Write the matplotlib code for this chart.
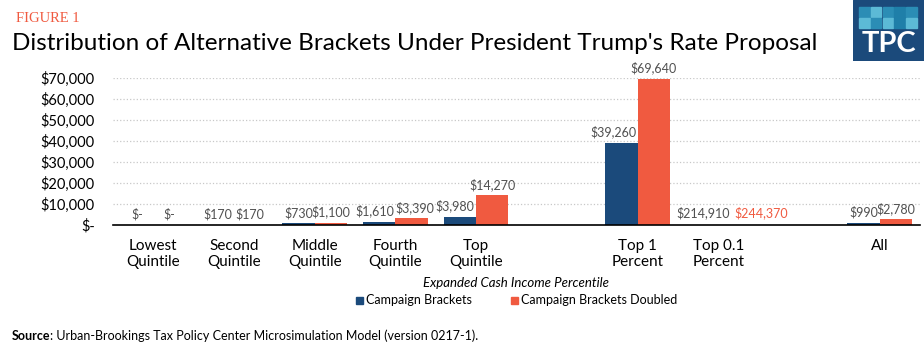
import numpy as np
import matplotlib.pyplot as plt
from matplotlib.patches import Rectangle

plt.rcParams['font.family'] = ['Lato', 'DejaVu Sans']

# data
categories = ['Lowest\nQuintile', 'Second\nQuintile', 'Middle\nQuintile', 'Fourth\nQuintile',
              'Top\nQuintile', 'Top 1\nPercent', 'Top 0.1\nPercent', 'All']
campaign = [0, 170, 730, 1610, 3980, 39260, 214910, 990]
doubled = [0, 170, 1100, 3390, 14270, 69640, 244370, 2780]
series_names = ['Campaign Brackets', 'Campaign Brackets Doubled']

blue = '#1B4A7B'
red = '#F05A40'
label_grey = '#505050'

# slots on the x axis, leaving empty slots before "Top 1" and before "All"
slots = np.array([0, 1, 2, 3, 4, 6, 7, 9])
ymax = 70000
width = 0.4
lab_size = 9

fig = plt.figure(figsize=(9.24, 3.51), dpi=100)
W, H = 924, 351
ax = fig.add_axes([113 / W, 1 - 225 / H, (920 - 113) / W, (225 - 78) / H])


def fmt(v):
    return '$-' if v == 0 else '${:,.0f}'.format(v)


labels = {}
bars = {}
for name, vals, color, shift in [('blue', campaign, blue, -width / 2),
                                 ('red', doubled, red, width / 2)]:
    vals = np.array(vals, dtype=float)
    # values past the axis top are not drawn as bars, only labelled
    shown = np.where(vals > ymax, 0, vals)
    bars[name] = ax.bar(slots + shift, shown, width=width, color=color, zorder=3)
    labels[name] = []
    for x, v, s in zip(slots + shift, vals, shown):
        if v > ymax:
            labels[name].append(None)
            continue
        t = ax.annotate(fmt(v), (x, s), xytext=(0, 3), textcoords='offset points',
                        ha='center', va='bottom', fontsize=lab_size, color=label_grey,
                        annotation_clip=False)
        labels[name].append(t)

# off-scale values for the Top 0.1 percent group
i = categories.index('Top 0.1\nPercent')
ax.annotate(fmt(campaign[i]), (slots[i] - width / 2, 0), xytext=(1, 4),
            textcoords='offset points', ha='center', va='bottom',
            fontsize=lab_size, color=label_grey)
ax.annotate(fmt(doubled[i]), (slots[i] + width / 2, 0), xytext=(0, 4),
            textcoords='offset points', ha='left', va='bottom',
            fontsize=lab_size, color=red)

ax.set_xlim(-0.5, 9.5)
ax.set_ylim(0, ymax)
ax.set_yticks(np.arange(0, ymax + 1, 10000))
ax.set_yticklabels([fmt(v) for v in np.arange(0, ymax + 1, 10000)], fontsize=10.5)
ax.set_xticks(slots)
ax.set_xticklabels(categories, fontsize=11, linespacing=1.2)
ax.tick_params(axis='x', length=0, pad=10)
ax.tick_params(axis='y', length=0, pad=13)
ax.yaxis.grid(True, linestyle=':', color='#c8c8c8', linewidth=0.9, zorder=0)
for sp in ['top', 'right', 'left']:
    ax.spines[sp].set_visible(False)
ax.spines['bottom'].set_linewidth(1.2)
ax.spines['bottom'].set_zorder(4)

# push a blue label to the left when it runs into the red bar or label next to it
fig.canvas.draw()
r = fig.canvas.get_renderer()
for j in range(len(slots)):
    tb, tr = labels['blue'][j], labels['red'][j]
    if tb is None or tr is None:
        continue
    bb, rb = tb.get_window_extent(r), tr.get_window_extent(r)
    red_bar = bars['red'][j].get_window_extent(r)
    hits_bar = red_bar.y1 > bb.y0 and bb.x1 > red_bar.x0
    if hits_bar or bb.x1 > rb.x0 + 2:
        tb.set_ha('right')
        tb.xy = (slots[j], tb.xy[1])
        tb.set_position((-1, 3))
        fig.canvas.draw()
        bb = tb.get_window_extent(r)
        if bb.x1 > rb.x0 and not hits_bar:
            tr.set_position(((bb.x1 - rb.x0 + 1) * 72 / fig.dpi, 3))

# axis title and legend
fig.text(516 / W, 1 - 283 / H, 'Expanded Cash Income Percentile', style='italic',
         fontsize=9.5, ha='center', va='center')
fig.patches.append(Rectangle((356 / W, 1 - 304 / H), 7 / W, 7 / H, color=blue,
                             transform=fig.transFigure, figure=fig))
fig.text(366 / W, 1 - 300 / H, series_names[0], fontsize=9, va='center')
fig.patches.append(Rectangle((511 / W, 1 - 304 / H), 7 / W, 7 / H, color=red,
                             transform=fig.transFigure, figure=fig))
fig.text(521 / W, 1 - 300 / H, series_names[1], fontsize=9, va='center')

# header
fig.text(16 / W, 1 - 19 / H, 'FIGURE 1', family='Liberation Serif', fontsize=10.5,
         color=red, va='center')
fig.text(12 / W, 1 - 43 / H,
         "Distribution of Alternative Brackets Under President Trump's Rate Proposal",
         fontsize=17.5, va='center')

# source, bold lead word then the rest right after it
src = fig.text(12 / W, 1 - 336 / H, 'Source', fontsize=9, fontweight='bold', va='center')
fig.canvas.draw()
x_end = src.get_window_extent().x1 / W
fig.text(x_end, 1 - 336 / H,
         ': Urban-Brookings Tax Policy Center Microsimulation Model (version 0217-1).',
         fontsize=9, va='center')

# TPC logo
logo = fig.add_axes([853 / W, 1 - 61 / H, 71 / W, 61 / H])
logo.set_xlim(0, 71)
logo.set_ylim(61, 0)
logo.axis('off')
logo.add_patch(Rectangle((0, 0), 71, 61, color='#1B4A7B'))
tiles = [['#2B8DB5', '#5CBAD6', '#2B8DB5', '#1F7FA9', '#2B8DB5'],
         ['#5CBAD6', '#2B8DB5', '#5CBAD6', '#1F7FA9', '#5CBAD6']]
for row_i, row in enumerate(tiles):
    for c, col in enumerate(row):
        logo.add_patch(Rectangle((6 + c * 11.8, 7 + row_i * 11), 10.5, 10, color=col))
logo.text(35.5, 44, 'TPC', color='white', fontsize=21, fontweight='bold',
          ha='center', va='center')

fig.savefig('out.png', dpi=100)
